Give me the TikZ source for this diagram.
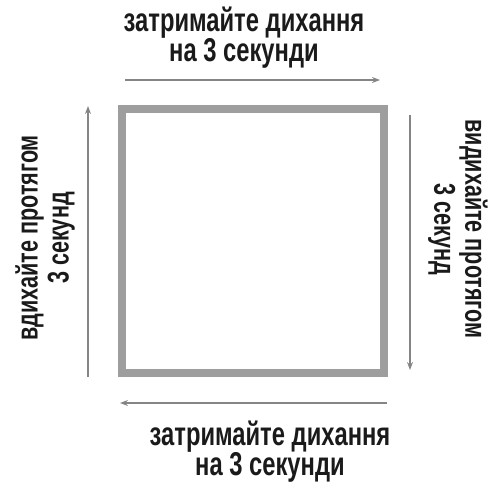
\documentclass[tikz,border=0pt]{standalone}
\usepackage{fontspec}
\setmainfont{Liberation Sans}[FakeStretch=0.72]
\usetikzlibrary{arrows.meta}
\definecolor{txt}{HTML}{1A1A1A}
\definecolor{frame}{HTML}{9E9E9E}
\definecolor{arr}{HTML}{858585}
\begin{document}
\begin{tikzpicture}[x=1pt,y=-1pt,
  lbl/.style={text=txt,font=\fontsize{33}{30}\selectfont\bfseries,align=center,inner sep=0pt},
  vlbl/.style={lbl,font=\fontsize{30}{31}\selectfont\bfseries},
  flow/.style={draw=arr,line width=1.8pt,-{Stealth[length=8pt,width=6pt]}},
  sq/.style={draw=frame,line width=8pt}]
\useasboundingbox (0,0) rectangle (490,483);
\draw[sq] (122,109) rectangle (384,373);
% arrows
\coordinate (t1) at (125,80); \coordinate (t2) at (380,80);
\coordinate (r1) at (410,115); \coordinate (r2) at (410,370);
\coordinate (b1) at (387,403); \coordinate (b2) at (120,403);
\coordinate (l1) at (88,377); \coordinate (l2) at (88,106);
\draw[flow] (t1) -- (t2);
\draw[flow] (r1) -- (r2);
\draw[flow] (b1) -- (b2);
\draw[flow] (l1) -- (l2);
% labels
\node[lbl] (top) at (244,38) {затримайте дихання\\на 3 секунди};
\node[lbl] (bot) at (270,452) {затримайте дихання\\на 3 секунди};
\node[vlbl,rotate=90] (left) at (45,238) {вдихайте протягом\\3 секунд};
\node[vlbl,rotate=-90] (right) at (458,229) {видихайте протягом\\3 секунд};
\end{tikzpicture}
\end{document}
